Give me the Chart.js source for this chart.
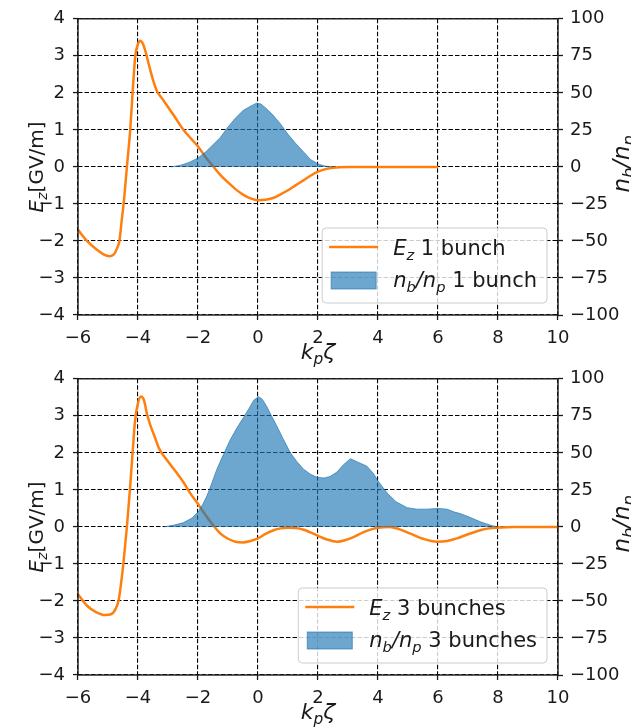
<!DOCTYPE html>
<html lang="en">
<head>
<meta charset="UTF-8">
<title>Ez and beam density, 1 and 3 bunches</title>
<script src="https://cdn.jsdelivr.net/npm/chart.js"></script>
<style>
  body { margin: 0; background: #fff; }
  #wrap { position: relative; width: 631px; height: 728px; overflow: hidden; }
  canvas { position: absolute; left: 0; }
  #top { top: 0; }
  #bottom { top: 360px; }
</style>
</head>
<body>
<div id="wrap">
  <canvas id="top" width="631" height="368"></canvas>
  <canvas id="bottom" width="631" height="368"></canvas>
</div>
<script>
// axis ticks
const zetaTicks = [-6, -4, -2, 0, 2, 4, 6, 8, 10];
const ezTicks = [-4, -3, -2, -1, 0, 1, 2, 3, 4];
const nbTicks = [-100, -75, -50, -25, 0, 25, 50, 75, 100];

// one bunch: field on axis
const ez1Zeta = [-6, -5.7, -5.4, -5.15, -4.95, -4.8, -4.7, -4.62, -4.55, -4.48, -4.37, -4.26, -4.18, -4.09, -4.0,
  -3.93, -3.85, -3.75, -3.65, -3.5, -3.37, -3.2, -3.0, -2.75, -2.5, -2.25, -2.0, -1.75, -1.5, -1.25,
  -1.0, -0.75, -0.5, -0.25, 0, 0.25, 0.5, 0.75, 1.0, 1.25, 1.5, 1.75, 2.0, 2.25, 2.5, 3.0, 4.0, 5.0, 6.0];
const ez1 = [-1.7, -2.0, -2.22, -2.36, -2.41, -2.36, -2.2, -2.0, -1.5, -1.0, 0, 1.0, 2.0, 3.0, 3.32,
  3.41, 3.35, 3.12, 2.8, 2.35, 2.05, 1.85, 1.62, 1.32, 1.02, 0.78, 0.55, 0.27, 0.02, -0.22,
  -0.42, -0.6, -0.75, -0.85, -0.9, -0.89, -0.84, -0.74, -0.63, -0.5, -0.37, -0.24, -0.13, -0.06, -0.02, 0, 0, 0, 0];

// one bunch: density profile
const nb1Zeta = [-2.9, -2.6, -2.3, -2.0, -1.75, -1.5, -1.25, -1.0, -0.75, -0.5, -0.25, -0.05,
  0.1, 0.3, 0.5, 0.75, 1.0, 1.25, 1.5, 1.75, 2.0, 2.25, 2.5];
const nb1 = [0, 1, 3, 6, 10, 15, 20, 27, 33, 38, 41, 43, 42.5, 39, 35, 29, 22, 16, 10.5, 5, 2, 0.5, 0];

// three bunches: field on axis
const ez3Zeta = [-6, -5.7, -5.4, -5.1, -4.9, -4.75, -4.64, -4.56, -4.48, -4.37, -4.27, -4.18, -4.1, -4.0, -3.9,
  -3.8, -3.7, -3.59, -3.45, -3.3, -3.03, -2.75, -2.48, -2.25, -2.0, -1.75, -1.48, -1.25, -1.0, -0.75,
  -0.5, -0.25, 0, 0.25, 0.52, 0.75, 1.0, 1.25, 1.5, 1.75, 2.0, 2.3, 2.63, 2.9, 3.2, 3.5, 3.8, 4.0, 4.4, 4.7,
  5.08, 5.5, 5.97, 6.3, 6.63, 7.0, 7.41, 7.7, 8.0, 8.5, 9.0, 10.0];
const ez3 = [-1.82, -2.13, -2.3, -2.38, -2.36, -2.22, -1.96, -1.5, -0.93, 0, 1.0, 2.0, 2.85, 3.35, 3.52,
  3.42, 3.05, 2.75, 2.45, 2.12, 1.8, 1.5, 1.2, 0.9, 0.62, 0.32, 0.03, -0.18, -0.32, -0.4,
  -0.42, -0.38, -0.31, -0.19, -0.09, -0.04, -0.02, -0.03, -0.07, -0.15, -0.24, -0.34, -0.4, -0.36, -0.27, -0.15, -0.06, -0.02, 0, -0.06,
  -0.18, -0.32, -0.4, -0.38, -0.31, -0.2, -0.09, -0.04, -0.02, 0, 0, 0];

// three bunches: density profile
const nb3Zeta = [-3.14, -2.8, -2.48, -2.2, -2.0, -1.85, -1.7, -1.55, -1.37, -1.15, -0.92, -0.7, -0.48, -0.3, -0.14,
  0.02, 0.15, 0.3, 0.45, 0.63, 0.85, 1.08, 1.3, 1.52, 1.75, 1.97, 2.2, 2.4, 2.63, 2.85,
  3.08, 3.3, 3.63, 3.85, 4.0, 4.15, 4.3, 4.6, 4.97, 5.3, 5.63, 6.0, 6.3, 6.55, 6.74, 7.0, 7.41, 7.7, 7.97];
const nb3 = [0, 1.2, 2.9, 6, 10, 15, 21, 29, 39, 49, 59, 67, 74, 80, 85.6,
  88, 86, 81, 75, 68, 59, 50, 44, 39, 35.5, 33.5, 33, 34, 37, 42,
  46, 44, 41, 36, 31, 27, 23, 17, 13, 12, 12, 12.5, 12, 10, 9, 7, 3.5, 1.5, 0];

const FONT = "'DejaVu Sans', sans-serif";
const INK = '#1a1a1a';
const ORANGE = '#ff7f0e';
const BLUE = 'rgba(31,119,180,0.65)';

const pts = (xs, ys) => xs.map((x, i) => ({ x: x, y: ys[i] }));
const minus = v => (v < 0 ? '\u2212' + Math.abs(v) : String(v));

// text with italic / subscript pieces: [text, flags], flags 'i' italic, 's' subscript
function richFont(flags, size) {
  return (flags.includes('i') ? 'italic ' : '') + (flags.includes('s') ? size * 0.7 : size) + 'px ' + FONT;
}
function richWidth(ctx, parts, size) {
  let w = 0;
  parts.forEach(([t, f]) => { ctx.font = richFont(f, size); w += ctx.measureText(t).width; });
  return w;
}
function drawRich(ctx, parts, x, y, size, align) {
  let cx = align === 'center' ? x - richWidth(ctx, parts, size) / 2 : x;
  ctx.textAlign = 'left';
  ctx.textBaseline = 'alphabetic';
  parts.forEach(([t, f]) => {
    ctx.font = richFont(f, size);
    ctx.fillText(t, cx, y + (f.includes('s') ? size * 0.22 : 0));
    cx += ctx.measureText(t).width;
  });
}

// frame, axis titles and legend
const decor = {
  id: 'decor',
  afterDatasetsDraw(chart, args, opts) {
    const { ctx, chartArea: a } = chart;
    ctx.save();
    ctx.strokeStyle = INK;
    ctx.lineWidth = 1.4;
    ctx.strokeRect(a.left, a.top, a.right - a.left, a.bottom - a.top);

    ctx.fillStyle = INK;
    drawRich(ctx, opts.xTitle, (a.left + a.right) / 2, a.bottom + 44, 22, 'center');
    const midY = (a.top + a.bottom) / 2;
    ctx.save();
    ctx.translate(43, midY);
    ctx.rotate(-Math.PI / 2);
    drawRich(ctx, opts.yTitle, 0, 0, 20, 'center');
    ctx.restore();
    ctx.save();
    ctx.translate(629, midY - 3);
    ctx.rotate(-Math.PI / 2);
    drawRich(ctx, opts.y2Title, 0, 0, 23, 'center');
    ctx.restore();

    // legend box in the lower right corner
    const size = 21;
    const textW = Math.max(...opts.legend.map(p => richWidth(ctx, p, size)));
    const w = 71 + textW + 10, h = 75;
    const right = a.right - 11, bottom = a.bottom - 12;
    const left = right - w, top = bottom - h;
    ctx.beginPath();
    ctx.roundRect(left, top, w, h, 4);
    ctx.fillStyle = 'rgba(255,255,255,0.8)';
    ctx.fill();
    ctx.strokeStyle = '#cccccc';
    ctx.lineWidth = 1;
    ctx.stroke();

    ctx.strokeStyle = ORANGE;
    ctx.lineWidth = 2.5;
    ctx.beginPath();
    ctx.moveTo(left + 7, top + 19);
    ctx.lineTo(left + 56, top + 19);
    ctx.stroke();
    ctx.fillStyle = BLUE;
    ctx.fillRect(left + 9, top + 44, 45, 17);
    ctx.lineWidth = 1;
    ctx.strokeStyle = BLUE;
    ctx.strokeRect(left + 9, top + 44, 45, 17);

    ctx.fillStyle = INK;
    drawRich(ctx, opts.legend[0], left + 71, top + 27, size, 'left');
    drawRich(ctx, opts.legend[1], left + 71, top + 59, size, 'left');
    ctx.restore();
  }
};

const tickFont = { family: FONT, size: 18 };

function makePlot(canvasId, padTop, ezX, ezY, nbX, nbY, label) {
  return new Chart(document.getElementById(canvasId), {
    type: 'line',
    data: {
      datasets: [
        {
          data: pts(nbX, nbY),
          yAxisID: 'y2',
          borderColor: BLUE,
          backgroundColor: BLUE,
          borderWidth: 1,
          fill: 'origin',
          pointRadius: 0,
          tension: 0,
          order: 1
        },
        {
          data: pts(ezX, ezY),
          yAxisID: 'y',
          borderColor: ORANGE,
          borderWidth: 2.5,
          fill: false,
          pointRadius: 0,
          cubicInterpolationMode: 'monotone',
          order: 2
        }
      ]
    },
    options: {
      responsive: false,
      animation: false,
      layout: { padding: { top: padTop, left: 0, right: 0, bottom: 0 } },
      plugins: {
        legend: { display: false },
        tooltip: { enabled: false },
        decor: {
          xTitle: [['k', 'i'], ['p', 'is'], ['\u03b6', 'i']],
          yTitle: [['E', 'i'], ['z', 'is'], ['[GV/m]', '']],
          y2Title: [['n', 'i'], ['b', 'is'], ['/', 'i'], ['n', 'i'], ['p', 'is']],
          legend: [
            [['E', 'i'], ['z', 'is'], [' ' + label, '']],
            [['n', 'i'], ['b', 'is'], ['/', 'i'], ['n', 'i'], ['p', 'is'], [' ' + label, '']]
          ]
        }
      },
      scales: {
        x: {
          type: 'linear',
          min: -6,
          max: 10,
          afterBuildTicks: s => { s.ticks = zetaTicks.map(v => ({ value: v })); },
          afterFit: s => { s.height = 53; },
          ticks: { font: tickFont, color: INK, padding: 8, maxRotation: 0, callback: minus },
          grid: { color: '#000', lineWidth: 1.1, tickLength: 5, tickColor: INK, tickWidth: 1.3 },
          border: { display: false, dash: [4.5, 2] }
        },
        y: {
          position: 'left',
          min: -4,
          max: 4,
          afterBuildTicks: s => { s.ticks = ezTicks.map(v => ({ value: v })); },
          afterFit: s => { s.width = 78; },
          ticks: { font: tickFont, color: INK, padding: 8, callback: minus },
          grid: { color: '#000', lineWidth: 1.1, tickLength: 5, tickColor: INK, tickWidth: 1.3 },
          border: { display: false, dash: [4.5, 2] }
        },
        y2: {
          position: 'right',
          min: -100,
          max: 100,
          afterBuildTicks: s => { s.ticks = nbTicks.map(v => ({ value: v })); },
          afterFit: s => { s.width = 73; },
          ticks: { font: tickFont, color: INK, padding: 7, callback: minus },
          grid: { drawOnChartArea: false, tickLength: 5, tickColor: INK, tickWidth: 1.3 },
          border: { display: false }
        }
      }
    },
    plugins: [decor]
  });
}

makePlot('top', 16, ez1Zeta, ez1, nb1Zeta, nb1, '1 bunch');
makePlot('bottom', 15, ez3Zeta, ez3, nb3Zeta, nb3, '3 bunches');
</script>
</body>
</html>
